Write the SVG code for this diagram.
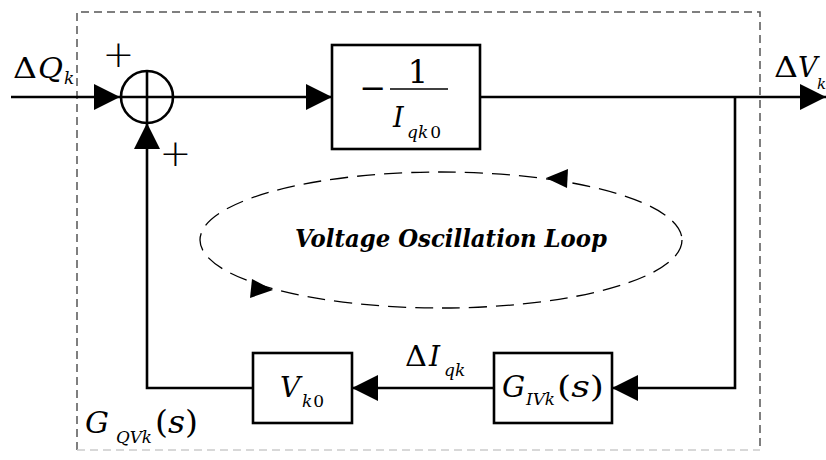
<svg xmlns="http://www.w3.org/2000/svg" width="826" height="460" viewBox="0 0 826 460">
<style>
text{font-family:'DejaVu Serif',serif;fill:#000}
.i{font-style:italic}
.pl{font-family:'DejaVu Sans',sans-serif;font-weight:200}
.ln{stroke:#000;stroke-width:2.6;fill:none}
.bx{stroke:#000;stroke-width:2.6;fill:#fff}
.bd{stroke:#555;stroke-width:1.5;stroke-dasharray:8 5;fill:none}
</style>
<defs>
<marker id="ah" markerUnits="userSpaceOnUse" markerWidth="26" markerHeight="26" refX="26" refY="13" orient="auto">
<path d="M0,0 L26,13 L0,26 Z" fill="#000"/>
</marker>
</defs>
<rect width="826" height="460" fill="#fff"/>
<g id="border">
<path class="bd" d="M77,450 V12 H760 V450"/>
<path d="M77,450 H760" stroke="#ccc" stroke-width="1.5" stroke-dasharray="8 5" fill="none"/>
</g>
<g id="connectors">
<line class="ln" x1="11" y1="97" x2="120" y2="97" marker-end="url(#ah)"/>
<line class="ln" x1="173" y1="97" x2="332" y2="97" marker-end="url(#ah)"/>
<line class="ln" x1="480" y1="97" x2="826" y2="97" marker-end="url(#ah)"/>
<polyline class="ln" points="735,97 735,388 612,388" marker-end="url(#ah)"/>
<line class="ln" x1="494" y1="388" x2="352" y2="388" marker-end="url(#ah)"/>
<polyline class="ln" points="253,388 147,388 147,123" marker-end="url(#ah)"/>
</g>
<g id="sum">
<circle cx="147" cy="97" r="26" class="ln"/>
<line class="ln" x1="121" y1="97" x2="173" y2="97"/>
<line class="ln" x1="147" y1="71" x2="147" y2="123"/>
<text class="pl" x="118.5" y="67" font-size="38" text-anchor="middle">+</text>
<text class="pl" x="175.5" y="166" font-size="38" text-anchor="middle">+</text>
</g>
<g id="block1">
<rect class="bx" x="332" y="45" width="148" height="104"/>
<text x="373" y="99" font-size="32" text-anchor="middle">−</text>
<line x1="390" y1="89" x2="448" y2="89" stroke="#000" stroke-width="1.5"/>
<text x="418" y="83" font-size="32" text-anchor="middle">1</text>
<text class="i" x="393" y="127" font-size="27">I</text>
<text x="407" y="138" font-size="17"><tspan class="i">qk</tspan><tspan dx="2">0</tspan></text>
</g>
<g id="blockG">
<rect class="bx" x="494" y="353" width="118" height="70"/>
<text class="i" x="502" y="397" font-size="29">G</text>
<text class="i" x="526" y="405" font-size="17" textLength="29" lengthAdjust="spacingAndGlyphs">IVk</text>
<text x="557" y="397" font-size="30" textLength="47" lengthAdjust="spacingAndGlyphs">(<tspan class="i">s</tspan>)</text>
</g>
<g id="blockV">
<rect class="bx" x="253" y="353" width="99" height="70"/>
<text class="i" x="280" y="397" font-size="28">V</text>
<text x="302" y="407" font-size="17"><tspan class="i">k</tspan><tspan dx="1">0</tspan></text>
</g>
<g id="labels">
<text x="13" y="78" font-size="28" textLength="24" lengthAdjust="spacingAndGlyphs">Δ</text>
<text class="i" x="38" y="78" font-size="28" textLength="25" lengthAdjust="spacingAndGlyphs">Q</text>
<text class="i" x="64" y="84" font-size="17">k</text>
<text x="774" y="77" font-size="28" textLength="24" lengthAdjust="spacingAndGlyphs">Δ</text>
<text class="i" x="798" y="77" font-size="27">V</text>
<text class="i" x="817" y="89" font-size="15">k</text>
<text x="405" y="366" font-size="28" textLength="22" lengthAdjust="spacingAndGlyphs">Δ</text>
<text class="i" x="429" y="366" font-size="28">I</text>
<text class="i" x="444" y="376" font-size="17">qk</text>
<text class="i" x="85" y="433" font-size="30">G</text>
<text class="i" x="116" y="443" font-size="17" textLength="36" lengthAdjust="spacingAndGlyphs">QVk</text>
<text x="155" y="433" font-size="31" textLength="43" lengthAdjust="spacingAndGlyphs">(<tspan class="i">s</tspan>)</text>
</g>
<g id="loop">
<ellipse cx="441" cy="240" rx="241" ry="68" fill="none" stroke="#000" stroke-width="1.3" stroke-dasharray="18 9"/>
<path d="M546,178 L568,169 L567,188 Z" fill="#000"/>
<path d="M273,290 L252,279 L250,298 Z" fill="#000"/>
<text class="i" x="295" y="247" font-size="25" font-weight="bold" textLength="312" lengthAdjust="spacingAndGlyphs">Voltage Oscillation Loop</text>
</g>
</svg>
